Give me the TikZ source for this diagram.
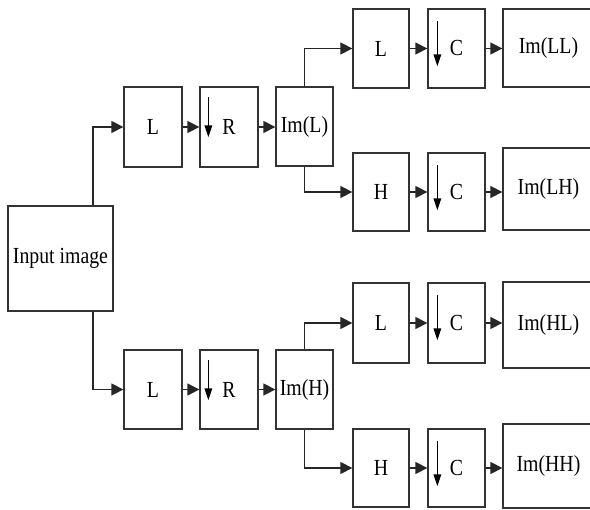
\documentclass[tikz,border=0pt]{standalone}
\usepackage{fontspec}
\setmainfont{Liberation Serif}[FakeStretch=0.86]
\usetikzlibrary{arrows.meta}
\begin{document}
\begin{tikzpicture}[x=1pt,y=-1pt,
  box/.style={draw=black!80,line width=1.3pt,rectangle,inner sep=0pt,fill=white,
    font=\fontsize{23}{26}\selectfont},
  arr/.style={draw=black!85,line width=1.4pt,-{Triangle[length=12pt,width=12pt]}},
  darr/.style={draw=black,line width=1.6pt,-{Triangle[length=12pt,width=7.5pt]}}]
\clip (0,0) rectangle (590,510);
\fill[white] (0,0) rectangle (590,510);
% input
\node[box,minimum width=105pt,minimum height=105pt] (inp) at (60.5,258.5) {Input image};
% upper chain
\node[box,minimum width=58pt,minimum height=80pt] (L1) at (153,127) {L};
\node[box,minimum width=58pt,minimum height=80pt] (R1) at (229,127) {R};
\node[box,minimum width=57pt,minimum height=79pt] (ImL) at (304.5,126.5) {Im(L)};
% lower chain
\node[box,minimum width=58pt,minimum height=79pt] (L2) at (153,389.5) {L};
\node[box,minimum width=58pt,minimum height=79pt] (R2) at (229,389.5) {R};
\node[box,minimum width=57pt,minimum height=79pt] (ImH) at (304.5,389.5) {Im(H)};
% LL row
\node[box,minimum width=56pt,minimum height=79pt] (LL1) at (381,48.5) {L};
\node[box,minimum width=57pt,minimum height=79pt] (C1) at (456.5,48.5) {C};
\node[box,minimum width=91pt,minimum height=78pt] (ImLL) at (548.5,48) {Im(LL)};
% LH row
\node[box,minimum width=56pt,minimum height=78pt] (H1) at (381,192) {H};
\node[box,minimum width=57pt,minimum height=78pt] (C2) at (456.5,192) {C};
\node[box,minimum width=91pt,minimum height=82pt] (ImLH) at (548.5,189) {Im(LH)};
% HL row
\node[box,minimum width=56pt,minimum height=80pt] (L3) at (381,323) {L};
\node[box,minimum width=57pt,minimum height=80pt] (C3) at (456.5,323) {C};
\node[box,minimum width=91pt,minimum height=86pt] (ImHL) at (548.5,325) {Im(HL)};
% HH row
\node[box,minimum width=56pt,minimum height=78pt] (H2) at (381,468) {H};
\node[box,minimum width=57pt,minimum height=78pt] (C4) at (456.5,468) {C};
\node[box,minimum width=91pt,minimum height=84pt] (ImHH) at (548.5,466) {Im(HH)};
% connectors
\draw[arr] ([xshift=32.5pt]inp.north) |- (L1.west);
\draw[arr] ([xshift=32.5pt]inp.south) |- (L2.west);
\draw[arr] (L1.east) -- (R1.west);
\draw[arr] (R1.east) -- (R1.east -| ImL.west);
\draw[arr] (L2.east) -- (R2.west);
\draw[arr] (R2.east) -- (R2.east -| ImH.west);
\draw[arr] (ImL.north) |- (LL1.west);
\draw[arr] (ImL.south) |- (H1.west);
\draw[arr] (ImH.north) |- (L3.west);
\draw[arr] (ImH.south) |- (H2.west);
\draw[arr] (LL1.east) -- (C1.west);
\draw[arr] (H1.east) -- (C2.west);
\draw[arr] (L3.east) -- (C3.west);
\draw[arr] (H2.east) -- (C4.west);
\draw[arr] (C1.east) -- (C1.east -| ImLL.west);
\draw[arr] (C2.east) -- (C2.east -| ImLH.west);
\draw[arr] (C3.east) -- (C3.east -| ImHL.west);
\draw[arr] (C4.east) -- (C4.east -| ImHH.west);
% down arrows inside R and C boxes
\draw[darr] ([xshift=9pt,yshift=-11pt]R1.north west) -- ++(0pt,-40pt);
\draw[darr] ([xshift=9pt,yshift=-11pt]R2.north west) -- ++(0pt,-40pt);
\draw[darr] ([xshift=10pt,yshift=-13pt]C1.north west) -- ++(0pt,-45pt);
\draw[darr] ([xshift=10pt,yshift=-13pt]C2.north west) -- ++(0pt,-45pt);
\draw[darr] ([xshift=10pt,yshift=-13pt]C3.north west) -- ++(0pt,-45pt);
\draw[darr] ([xshift=10pt,yshift=-13pt]C4.north west) -- ++(0pt,-45pt);
\end{tikzpicture}
\end{document}
